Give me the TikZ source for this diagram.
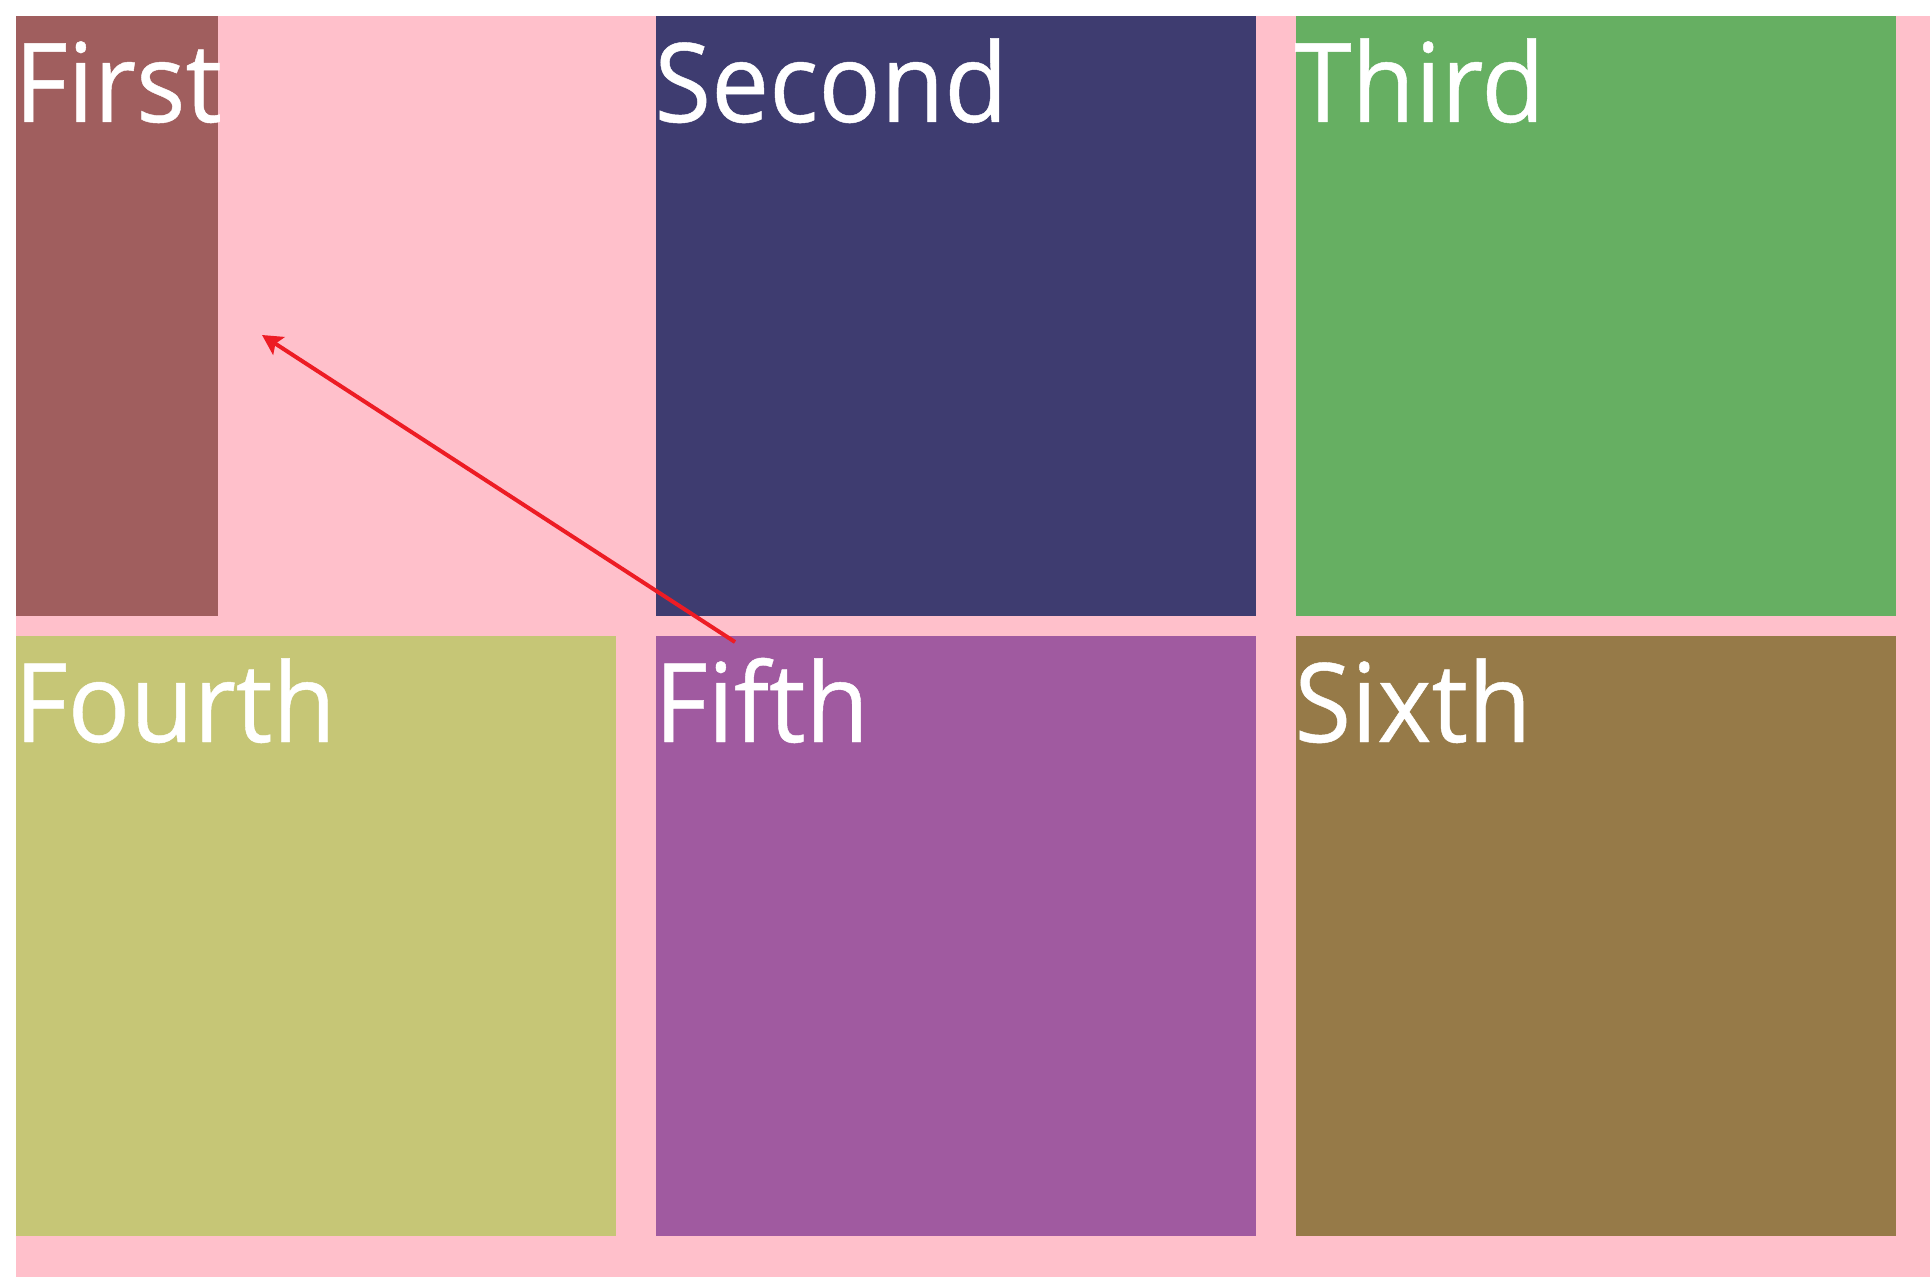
\documentclass[tikz,border=0pt]{standalone}
\usepackage{fontspec}
\setmainfont{Open Sans}[FakeStretch=0.94,FakeBold=0.4]
\usetikzlibrary{arrows.meta}

\definecolor{gridpink}{RGB}{255,192,203}
\definecolor{cfirst}{RGB}{160,94,94}
\definecolor{csecond}{RGB}{62,60,112}
\definecolor{cthird}{RGB}{102,175,98}
\definecolor{cfourth}{RGB}{198,198,118}
\definecolor{cfifth}{RGB}{160,90,160}
\definecolor{csixth}{RGB}{150,122,72}
\definecolor{cpointer}{RGB}{237,28,36}

\begin{document}
\begin{tikzpicture}[x=0.5pt,y=-0.5pt,
    boxlabel/.style={anchor=base west, inner sep=0pt, text=white,
      font=\fontsize{55}{60}\selectfont},
    pointer/.style={draw=cpointer, line width=2pt,
      -{Stealth[length=10pt,width=10.5pt,inset=2pt]}}]
  \useasboundingbox[fill=white] (0,0) rectangle (1930,1277);
  \fill[gridpink] (16,16) rectangle (1930,1277);
  \foreach \x/\y/\w/\col/\nm/\txt in {
      16/16/202/cfirst/first/First,
      656/16/600/csecond/second/Second,
      1296/16/600/cthird/third/Third,
      16/636/600/cfourth/fourth/Fourth,
      656/636/600/cfifth/fifth/Fifth,
      1296/636/600/csixth/sixth/Sixth}
    {
      \fill[\col] (\x,\y) rectangle ++(\w,600);
      \node[boxlabel] (\nm) at (\x-2,\y+106) {\txt};
    }
  % moved item
  \coordinate (tail) at (735,642);
  \coordinate (tip) at (262,335);
  \draw[pointer] (tail) -- (tip);
\end{tikzpicture}
\end{document}
